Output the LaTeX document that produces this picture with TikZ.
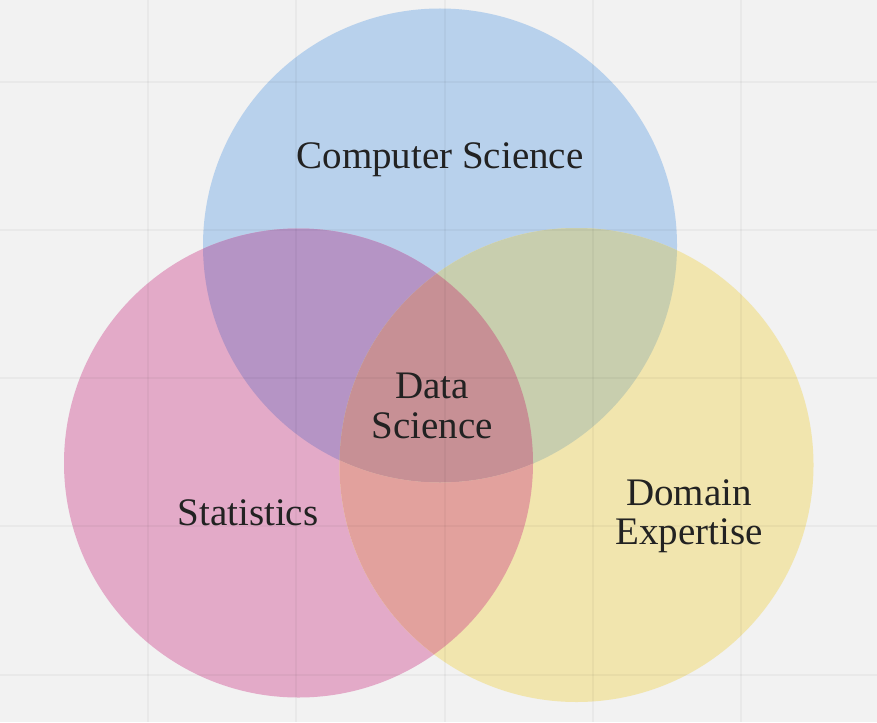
\documentclass[tikz,border=0pt]{standalone}
\usepackage{fontspec}
\setmainfont{Liberation Serif}
\definecolor{bgc}{HTML}{F2F2F2}
\definecolor{cblue}{HTML}{B8D1EC}
\definecolor{cpink}{HTML}{E3AAC8}
\definecolor{cyellow}{HTML}{F1E5AE}
\definecolor{cbp}{HTML}{B594C5}
\definecolor{cby}{HTML}{C8CEAE}
\definecolor{cpy}{HTML}{E2A19D}
\definecolor{call}{HTML}{C79095}
\definecolor{txt}{HTML}{222222}
\begin{document}
\begin{tikzpicture}[x=1pt,y=-1pt,
  lbl/.style={text=txt,font=\fontsize{39}{41}\selectfont,align=center,inner sep=0pt},
  gridline/.style={draw=black,draw opacity=0.035,line width=1.5pt}]
\useasboundingbox (0,0) rectangle (877,722);
\fill[bgc] (0,0) rectangle (877,722);
\def\cb{(440,245.5) circle[radius=237]}
\def\cp{(298.5,463) circle[radius=234.5]}
\def\cy{(576.5,465) circle[radius=237]}
\fill[cblue] \cb;
\fill[cpink] \cp;
\fill[cyellow] \cy;
\begin{scope}
  \clip \cb;
  \fill[cbp] \cp;
  \fill[cby] \cy;
  \clip \cp;
  \fill[call] \cy;
\end{scope}
\begin{scope}
  \clip \cp;
  \clip \cy;
  \begin{scope}[even odd rule]
    \clip (0,0) rectangle (877,722) \cb;
    \fill[cpy] (0,0) rectangle (877,722);
  \end{scope}
\end{scope}
\foreach \gx in {148,296,445,593,741} \draw[gridline] (\gx,0) -- (\gx,722);
\foreach \gy in {82,230,378,526,675} \draw[gridline] (0,\gy) -- (877,\gy);
\node[lbl,anchor=base] (cs) at (440,168) {Computer Science};
\node[lbl,anchor=base] (ds1) at (432,398) {Data};
\node[lbl,anchor=base] (ds2) at (432,438) {Science};
\node[lbl,anchor=base] (st) at (248,525) {Statistics};
\node[lbl,anchor=base] (de1) at (689,505) {Domain};
\node[lbl,anchor=base] (de2) at (689,544) {Expertise};
\end{tikzpicture}
\end{document}
